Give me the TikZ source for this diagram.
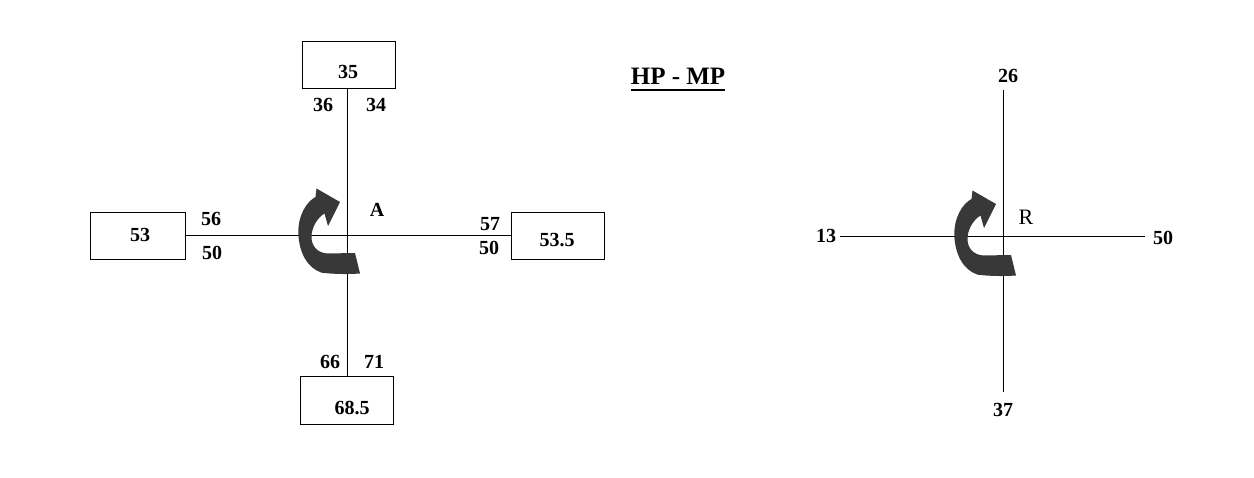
\documentclass[tikz,border=0pt]{standalone}
\usepackage{fontspec}
\setmainfont{Liberation Serif}
\begin{document}
\begin{tikzpicture}[x=1pt,y=-1pt,
  num/.style={font=\fontsize{20}{22}\selectfont\bfseries, inner sep=0pt},
  valbox/.style={draw, line width=0.8pt, minimum width=93pt, minimum height=47pt, inner sep=0pt},
  ln/.style={line width=0.8pt},
  turn/.pic={\fill[black!78] (-30.5,-45.5) -- (-7,-32) -- (-19,-8) -- (-22.5,-20.5)
     .. controls (-30,-16) and (-35.5,-6) .. (-35.5,2.7)
     .. controls (-35.5,12) and (-30,18.5) .. (-20,19.5)
     -- (8,19) -- (13,39.5)
     .. controls (0,40.5) and (-15,40) .. (-25.3,38.7)
     .. controls (-40,34) and (-48,18) .. (-48.7,-0.7)
     .. controls (-49,-18) and (-41,-32) .. (-31.5,-37)
     -- cycle;}]
\useasboundingbox (0,0) rectangle (1254,478);
\fill[white] (0,0) rectangle (1254,478);
% left figure
\node[valbox] (top) at (348.5,64.5) {};
\node[valbox, minimum width=95pt] (lb) at (137.5,235.5) {};
\node[valbox] (rb) at (557.5,235.5) {};
\node[valbox, minimum height=48pt] (bot) at (346.5,400) {};
\coordinate (c) at (347,234);
\draw[ln] (top.south -| c) -- (bot.north -| c);
\draw[ln] (lb.east) -- (rb.west);
\pic at (c) {turn};
\node[num] (t35) at (348,72) {35};
\node[num] (t36) at (323,105) {36};
\node[num] (t34) at (376,105) {34};
\node[num] (t53) at (140,235) {53};
\node[num] (t56) at (211,219) {56};
\node[num] (t50a) at (212,253) {50};
\node[num] (t535) at (557,240) {53.5};
\node[num] (t57) at (490,224) {57};
\node[num] (t50b) at (489,248) {50};
\node[num] (t685) at (352,408) {68.5};
\node[num] (t66) at (330,362) {66};
\node[num] (t71) at (374,362) {71};
\node[num] (A) at (377,210) {A};
% title
\node[num, font=\fontsize{25}{28}\selectfont\bfseries] (title) at (678,76) {HP - MP};
\draw[line width=1.4pt] ([yshift=-6pt]title.base west) -- ([yshift=-6pt]title.base east);
% right figure
\coordinate (r) at (1003,236);
\coordinate (rt) at (1003,90);
\coordinate (rbt) at (1003,392);
\coordinate (rl) at (840,236);
\coordinate (rr) at (1145,236);
\draw[ln] (rt) -- (rbt);
\draw[ln] (rl) -- (rr);
\pic at (r) {turn};
\node[num] (r26) at (1008,76) {26};
\node[num] (r37) at (1003,410) {37};
\node[num] (r13) at (826,236) {13};
\node[num] (r50) at (1163,238) {50};
\node[inner sep=0pt, font=\fontsize{22}{24}\selectfont] (R) at (1026,217) {R};
\end{tikzpicture}
\end{document}
